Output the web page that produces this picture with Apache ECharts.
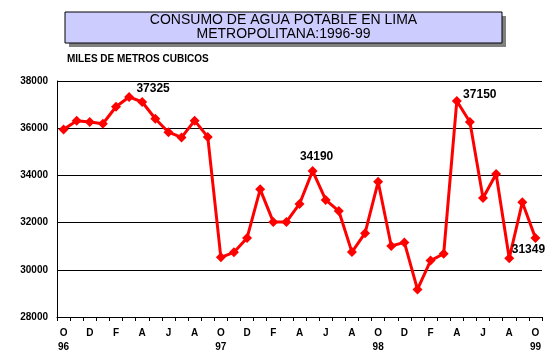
<!DOCTYPE html>
<html><head><meta charset="utf-8">
<script src="https://cdn.jsdelivr.net/npm/echarts@6/dist/echarts.min.js"></script>
<style>html,body{margin:0;padding:0;background:#fff}#c{width:559px;height:359px}</style>
</head><body><div id="c"></div>
<script>
const months = ['O','N','D','E','F','M','A','M','J','J','A','S','O','N','D','E','F','M','A','M','J','J','A','S','O','N','D','E','F','M','A','M','J','J','A','S','O'];
const yearLabels = {0:'96',12:'97',24:'98',36:'99'};
const values = [35950,36320,36260,36190,36910,37325,37110,36400,35830,35610,36320,35630,
  30530,30740,31350,33410,32030,32030,32790,34190,32960,32490,30750,31550,
  33730,31010,31160,29170,30390,30680,37150,36260,33040,34060,30490,32860,31349];
const labelled = [5,19,30,36];
const yTicks = {min:28000,max:38000,step:2000};
const titleLines = ['CONSUMO DE AGUA POTABLE EN LIMA','METROPOLITANA:1996-99'];

const FF = 'Liberation Sans, Arial, sans-serif';
const labelOffsets = {5:[24,-8],19:[4,-14],30:[23,-6],36:[-7,12]};
const cats = months.map((m,i)=> yearLabels[i]!==undefined ? m+'\n'+yearLabels[i] : m);
const data = values.map((v,i)=>{
  if(labelled.indexOf(i)>=0){
    return {value:v,label:{show:true,position:'inside',offset:labelOffsets[i],formatter:String(v),
      color:'#000',fontSize:12,fontWeight:'bold',fontFamily:FF}};
  }
  return v;
});
const chart = echarts.init(document.getElementById('c'),null,{renderer:'canvas'});
chart.setOption({
  animation:false,
  backgroundColor:'#fff',
  graphic:[
    {type:'rect',shape:{x:69,y:16,width:437,height:31},style:{fill:'#808080'},silent:true},
    {type:'rect',shape:{x:65,y:12,width:437,height:31},style:{fill:'#ccccff',stroke:'#000',lineWidth:1},silent:true},
    {type:'text',x:283.5,y:20,style:{text:titleLines[0],fontSize:14,fill:'#000',fontFamily:FF,align:'center',verticalAlign:'middle'}},
    {type:'text',x:283.5,y:34,style:{text:titleLines[1],fontSize:14,fill:'#000',fontFamily:FF,align:'center',verticalAlign:'middle'}},
    {type:'text',left:67,top:54,style:{text:'MILES DE METROS CUBICOS',fontSize:10,fontWeight:'bold',fill:'#000',fontFamily:FF}}
  ],
  grid:{left:57,right:17,top:81,bottom:42},
  xAxis:{type:'category',data:cats,boundaryGap:true,
    axisLine:{lineStyle:{color:'#000',width:1}},
    axisTick:{show:true,interval:0,length:4,inside:false,lineStyle:{color:'#000'}},
    axisLabel:{interval:1,color:'#000',fontSize:10,fontWeight:'bold',lineHeight:14,margin:9,fontFamily:FF},
    splitLine:{show:false}},
  yAxis:{type:'value',min:yTicks.min,max:yTicks.max,interval:yTicks.step,
    axisLine:{show:true,lineStyle:{color:'#000',width:1}},
    axisTick:{show:false},
    axisLabel:{color:'#000',fontSize:10,fontWeight:'bold',margin:9,fontFamily:FF,formatter:v=>String(v)},
    splitLine:{show:true,lineStyle:{color:'#000',width:1}}},
  series:[{type:'line',data:data,symbol:'diamond',symbolSize:10,showAllSymbol:true,
    lineStyle:{color:'#ff0000',width:3},itemStyle:{color:'#ff0000'},
    label:{show:false}}]
});
</script></body></html>
